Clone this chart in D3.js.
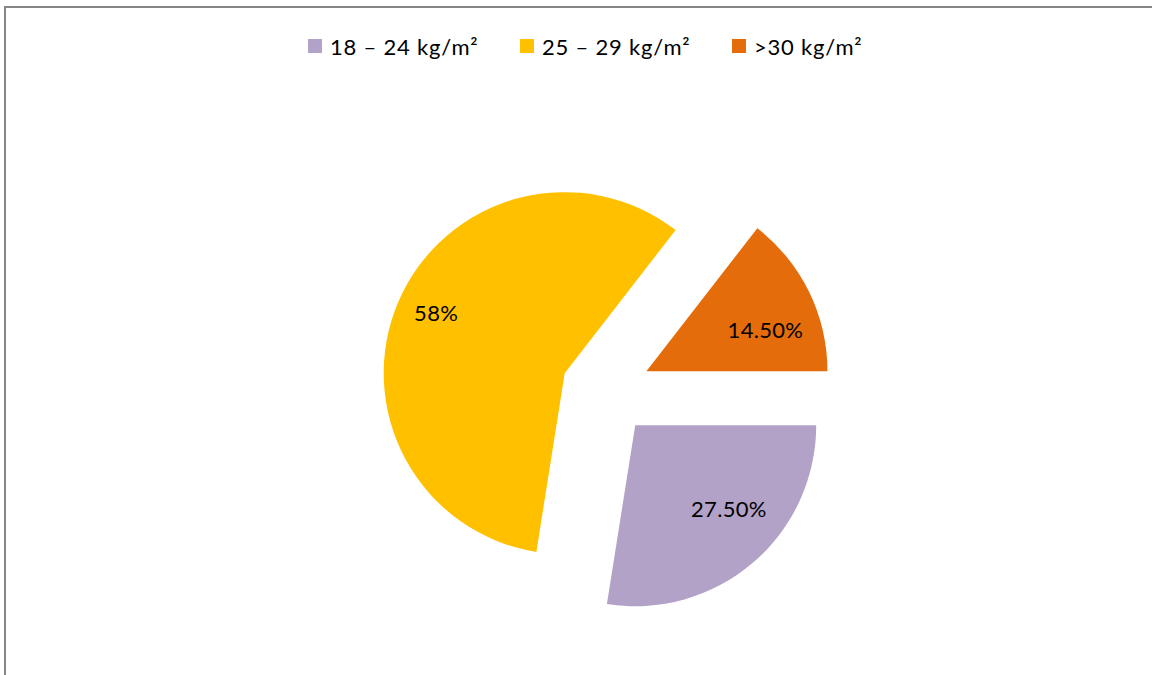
<!DOCTYPE html>
<html>
<head>
<meta charset="utf-8">
<script src="https://cdn.jsdelivr.net/npm/d3@7/dist/d3.min.js"></script>
<style>
  html, body { margin: 0; padding: 0; background: #fff; }
  svg { display: block; }
  text { font-family: Lato, "Open Sans", sans-serif; fill: #000; }
</style>
</head>
<body>
<svg id="chart" width="1152" height="675"></svg>
<script>
// BMI groups and their share of respondents
const categories = ["18 – 24 kg/m²", "25 – 29 kg/m²", ">30 kg/m²"];
const values = [27.5, 58, 14.5];
const valueLabels = ["27.50%", "58%", "14.50%"];
const colors = ["#B3A2C7", "#FFC000", "#E46C0A"];

const W = 1152, H = 675;
const svg = d3.select("#chart");

// chart-area frame (only top and left edges fall inside the page)
svg.append("rect")
  .attr("x", 5).attr("y", 7)
  .attr("width", W + 20).attr("height", H + 20)
  .attr("fill", "none")
  .attr("stroke", "#868686")
  .attr("stroke-width", 2);

// pie geometry
const cx = 606, cy = 391, radius = 181, explode = 45;

const color = d3.scaleOrdinal().domain(categories).range(colors);

const pie = d3.pie()
  .sort(null)
  .value(d => d.value)
  .startAngle(Math.PI / 2)
  .endAngle(Math.PI / 2 + 2 * Math.PI);

const data = categories.map((c, i) => ({ name: c, value: values[i], label: valueLabels[i] }));
const arcs = pie(data);

const arc = d3.arc().innerRadius(0).outerRadius(radius);

const g = svg.append("g").attr("transform", `translate(${cx},${cy})`);

const mid = d => (d.startAngle + d.endAngle) / 2;

const slice = g.selectAll("g.slice")
  .data(arcs)
  .join("g")
  .attr("class", "slice")
  .attr("transform", d => `translate(${explode * Math.sin(mid(d))},${-explode * Math.cos(mid(d))})`);

slice.append("path")
  .attr("d", arc)
  .attr("fill", d => color(d.data.name));

// value labels: along each slice's bisector, with small placement nudges
const labelR = radius * 0.72;
const labelNudge = { "18 – 24 kg/m²": [9, -16], "25 – 29 kg/m²": [-9, -9], ">30 kg/m²": [2, 16] };
slice.append("text")
  .attr("x", d => labelR * Math.sin(mid(d)) + labelNudge[d.data.name][0])
  .attr("y", d => -labelR * Math.cos(mid(d)) + labelNudge[d.data.name][1])
  .attr("text-anchor", "middle")
  .attr("dominant-baseline", "central")
  .style("font-size", "22px")
  .style("letter-spacing", "0.3px")
  .text(d => d.data.label);

// legend across the top
const legendX = d3.scalePoint().domain(categories).range([308, 732]);
const leg = svg.append("g").selectAll("g")
  .data(categories)
  .join("g")
  .attr("transform", d => `translate(${legendX(d)},39)`);

leg.append("rect")
  .attr("width", 14).attr("height", 14)
  .attr("fill", d => color(d));

leg.append("text")
  .attr("x", 22).attr("y", 7)
  .attr("dominant-baseline", "central")
  .style("font-size", "22px")
  .style("letter-spacing", "0.8px")
  .text(d => d);
</script>
</body>
</html>
